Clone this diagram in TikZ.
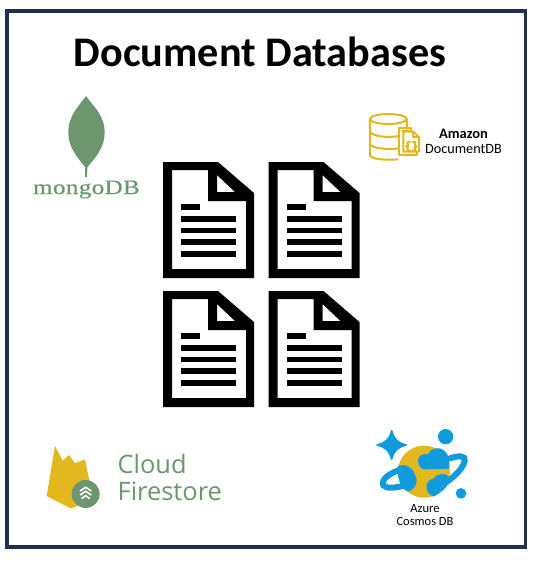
\documentclass[tikz,border=0pt]{standalone}
\usepackage{fontspec}
\setmainfont{Carlito}
\newfontfamily\mongofont[FakeStretch=1.22,LetterSpace=2,FakeBold=0.4]{Liberation Serif}
\newfontfamily\fsfont{Open Sans}
\definecolor{framecol}{HTML}{1F3050}
\definecolor{leafgreen}{HTML}{6E966E}
\definecolor{gold}{HTML}{E3B71E}
\definecolor{skyblue}{HTML}{0F9BDC}
\tikzset{
  x=1pt,y=-1pt,
  docicon/.pic={
    \fill[black,even odd rule] (0,0)--(55,0)--(91,31)--(91,116)--(0,116)--cycle
      (9,8)--(45,8)--(45,39)--(83,39)--(83,107)--(9,107)--cycle
      (54,13)--(54,30)--(72,30)--cycle;
    \fill[black] (18,42) rectangle (37,48);
    \foreach \yy in {54,65.7,77.4,89}{\fill[black] (18,\yy) rectangle (73,\yy+5.7);}
  },
  goldline/.style={draw=gold,line width=2pt,line join=round,line cap=round},
  titletext/.style={font=\fontsize{42.2}{44}\selectfont\bfseries,text=black,inner sep=0pt},
  smalllabel/.style={font=\fontsize{12.5}{14}\selectfont,text=black,inner sep=0pt,anchor=base},
}
\begin{document}
\begin{tikzpicture}
\useasboundingbox (0,0) rectangle (540,562);
\fill[white] (0,0) rectangle (540,562);
\draw[framecol,line width=3.4pt] (7,11) rectangle (525.5,547);
\node[titletext,anchor=base] (title) at (260,66) {Document Databases};

% documents
\pic at (163,162) {docicon};
\pic at (268.5,162) {docicon};
\pic at (163,291) {docicon};
\pic at (268.5,291) {docicon};

% mongoDB
\fill[leafgreen] (86,96) .. controls (80,105) and (68,115) .. (68.3,133)
  .. controls (68.5,148) and (78,158) .. (85,167) -- (85.2,177) -- (86.8,177) -- (87.5,167)
  .. controls (95,158) and (104.5,148) .. (104.7,133)
  .. controls (105,115) and (92,105) .. (86,96) -- cycle;
\node[font=\mongofont\fontsize{20.5}{24}\selectfont,text=leafgreen,inner sep=0pt,anchor=base] (mongo) at (86.5,194) {mongoDB};

% Amazon DocumentDB
\begin{scope}[shift={(350,100)},scale=1/3]
  \draw[goldline] (115,57) ellipse [x radius=55,y radius=15];
  \draw[goldline] (60,57) -- (60,165) .. controls (60,175) and (95,182) .. (143,178);
  \draw[goldline] (170,57) -- (170,85);
  \draw[goldline] (60,95) .. controls (65,108) and (110,115) .. (148,108);
  \draw[goldline] (60,132) .. controls (65,145) and (110,150) .. (148,145);
  \filldraw[goldline,fill=white] (148,85) -- (182,85) -- (182,92) -- (148,92) -- cycle;
  \filldraw[goldline,fill=white] (148,85) -- (148,165) -- (200,165) -- (200,155);
  \filldraw[goldline,fill=white] (160,95) -- (190,95) -- (207,112) -- (207,155) -- (160,155) -- cycle;
  \draw[goldline] (190,95) -- (190,112) -- (207,112);
  \draw[goldline] (180,125) -- (172,127) -- (174,136) -- (168,139) -- (174,142) -- (172,150) -- (180,152);
  \draw[goldline] (188,125) -- (196,127) -- (194,136) -- (200,139) -- (194,142) -- (196,150) -- (188,152);
\end{scope}
\node[smalllabel,font=\fontsize{14.5}{16}\selectfont\bfseries] (amazon) at (463.5,138) {Amazon};
\node[smalllabel,font=\fontsize{14.2}{16}\selectfont] (docdb) at (463.5,153.5) {DocumentDB};

% Cloud Firestore
\begin{scope}[shift={(30,430)},scale=1/3]
  \fill[gold] (50,198) -- (75,48) -- (98,92) -- (117,75) -- (135,100) -- (165,88) -- (190,212) -- (122,235) -- cycle;
  \fill[leafgreen] (167,192) circle [radius=42];
  \draw[white,line width=1.6pt,line join=miter] (150,183) -- (167,172) -- (184,183);
  \draw[white,line width=1.6pt,line join=miter] (150,195) -- (167,184) -- (184,195);
  \draw[white,line width=1.6pt,line join=miter] (155,206) -- (167,197) -- (179,206);
\end{scope}
\node[font=\fsfont\fontsize{25.4}{28}\selectfont,text=leafgreen,inner sep=0pt,anchor=base west] (cloud) at (117.5,473.5) {Cloud};
\node[font=\fsfont\fontsize{25.4}{28}\selectfont,text=leafgreen,inner sep=0pt,anchor=base west] (fire) at (117.5,500.5) {Firestore};

% Azure Cosmos DB
\begin{scope}[shift={(360,420)},scale=1/3]
  \filldraw[skyblue,line width=1.5pt,line join=round] (95,32) .. controls (102,58) and (112,68) .. (139,75)
    .. controls (112,82) and (102,92) .. (95,118)
    .. controls (88,92) and (78,82) .. (51,75)
    .. controls (78,68) and (88,58) .. (95,32) -- cycle;
  \fill[skyblue] (257,50) circle [radius=23];
  \fill[skyblue] (303,220) circle [radius=16];
  \fill[gold] (192,155) circle [radius=78];
  % ring
  \draw[skyblue,line width=6pt,line cap=round] (125,148) .. controls (90,158) and (62,178) .. (70,196) .. controls (80,208) and (110,203) .. (135,196);
  \draw[skyblue,line width=6pt,line cap=round] (270,115) .. controls (300,105) and (318,108) .. (314,123) .. controls (308,150) and (270,185) .. (225,205);
  % clouds
  \fill[skyblue] (113,138) .. controls (135,130) and (160,142) .. (165,165) .. controls (175,178) and (170,200) .. (155,210) .. controls (145,220) and (135,212) .. (125,200) .. controls (115,180) and (112,160) .. (113,138) -- cycle;
  \fill[skyblue] (175,128) .. controls (170,108) and (188,100) .. (205,102) .. controls (210,85) and (238,78) .. (253,92) .. controls (268,105) and (272,128) .. (266,146) -- (195,148) .. controls (183,148) and (177,138) .. (175,128) -- cycle;
  \fill[skyblue] (200,207) .. controls (197,188) and (208,178) .. (220,176) .. controls (230,160) and (258,156) .. (268,172) .. controls (272,195) and (245,218) .. (220,230) .. controls (210,226) and (203,218) .. (200,207) -- cycle;
\end{scope}
\node[smalllabel] (azure) at (425,512) {Azure};
\node[smalllabel] (cosmos) at (425,525) {Cosmos DB};
\end{tikzpicture}
\end{document}
